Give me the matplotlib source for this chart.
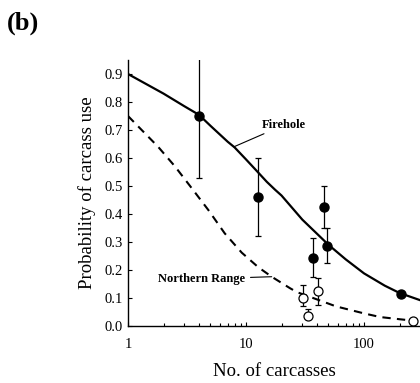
import numpy as np
import matplotlib.pyplot as plt

# fitted curves
fireX = [1, 2, 3, 4, 5, 7, 8, 10, 12.7, 15, 17.6, 20, 30, 50, 70, 100, 150,
         200, 300]
fireY = [0.90, 0.83, 0.785, 0.754, 0.715, 0.658, 0.638, 0.595, 0.548, 0.515,
         0.487, 0.466, 0.38, 0.29, 0.238, 0.188, 0.144, 0.118, 0.092]
northX = [1, 1.8, 2.5, 3.5, 4.8, 6.6, 9.2, 12.7, 16.5, 23.6, 27, 45, 58,
          100, 137, 202, 262]
northY = [0.75, 0.64, 0.57, 0.49, 0.414, 0.331, 0.262, 0.21, 0.176, 0.135,
          0.121, 0.087, 0.07, 0.045, 0.032, 0.024, 0.019]

# Firehole observations (filled)
fireObsX = [4, 12.6, 36.8, 46.1, 48.9, 206]
fireObsY = [0.75, 0.46, 0.243, 0.426, 0.286, 0.114]
fireLo = [0.53, 0.32, 0.175, 0.35, 0.226, 0.114]
fireHi = [1.0, 0.60, 0.314, 0.501, 0.35, 0.114]

# Northern Range observations (open)
northObsX = [30.6, 33.3, 41, 262]
northObsY = [0.099, 0.037, 0.126, 0.019]
northLo = [0.07, 0.037, 0.075, 0.019]
northHi = [0.146, 0.06, 0.17, 0.019]

plt.rcParams['font.family'] = ['Liberation Serif', 'DejaVu Serif']

fig = plt.figure(figsize=(4.2, 3.83), dpi=100)
ax = fig.add_axes([128 / 420, 57 / 383, 292 / 420, 266 / 383])

ax.plot(fireX, fireY, color='black', lw=1.6)
ax.plot(northX, northY, color='black', lw=1.5, linestyle=(0, (4, 3)))

fy = np.array(fireObsY)
ax.errorbar(fireObsX, fireObsY,
            yerr=[fy - np.array(fireLo), np.array(fireHi) - fy],
            fmt='o', color='black', ms=6.5, capsize=2.5, elinewidth=0.9,
            capthick=0.9, clip_on=True)
ny = np.array(northObsY)
ax.errorbar(northObsX, northObsY,
            yerr=[ny - np.array(northLo), np.array(northHi) - ny],
            fmt='o', color='black', mfc='white', ms=6.5, mew=0.9,
            capsize=2.5, elinewidth=0.9, capthick=0.9, clip_on=False)

ax.set_xscale('log')
ax.set_xlim(1, 10 ** (292 / 118))
ax.set_ylim(0, 0.95)
ax.set_yticks(np.arange(0, 0.91, 0.1))
ax.set_yticklabels(['%.1f' % v for v in np.arange(0, 0.91, 0.1)])
ax.set_xticks([1, 10, 100])
ax.set_xticklabels(['1', '10', '100'])
ax.tick_params(axis='both', which='both', direction='in', labelsize=10.5)
ax.tick_params(which='major', length=3, width=0.8)
ax.tick_params(which='minor', length=2, width=0.8)
ax.tick_params(axis='x', pad=9)
ax.spines['top'].set_visible(False)
ax.spines['right'].set_visible(False)
for s in ('left', 'bottom'):
    ax.spines[s].set_linewidth(1.0)

ax.set_ylabel('Probability of carcass use', fontsize=13.5, labelpad=6)
ax.set_xlabel('No. of carcasses', fontsize=13.5, labelpad=8)

ax.annotate('Firehole', xy=(7.9, 0.64), xytext=(13.7, 0.718),
            fontsize=9, fontweight='bold', va='center', ha='left',
            arrowprops=dict(arrowstyle='-', color='black', lw=0.8,
                            shrinkA=0, shrinkB=0))
ax.annotate('Northern Range', xy=(16.5, 0.176), xytext=(9.8, 0.168),
            fontsize=9, fontweight='bold', va='center', ha='right',
            arrowprops=dict(arrowstyle='-', color='black', lw=0.8,
                            shrinkA=2, shrinkB=0))

fig.text(7 / 420, 1 - 23 / 383, '(b)', fontsize=19, fontweight='bold',
         va='center', ha='left')

fig.savefig('out.png', dpi=100)
